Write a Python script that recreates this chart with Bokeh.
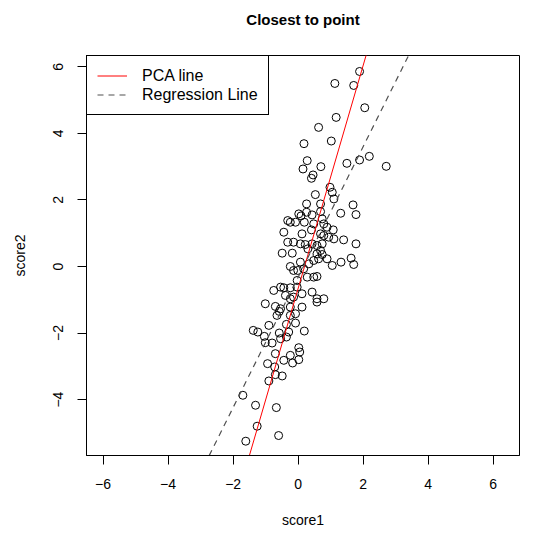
import numpy as np
from bokeh.plotting import figure
from bokeh.models import Range1d, Legend, LegendItem, FixedTicker, LinearAxis
from bokeh.embed import file_html
from bokeh.resources import INLINE

# ---- data ----
score1 = [1.89, 1.13, 1.71, 2.05, 1.17, 0.63, 0.18, 1.02, 0.28, 0.15, 0.70, 0.46, 0.41, 1.50, 1.89, 2.19, 2.71, 0.98,
          1.05, 1.10, 0.53, 0.26, 0.69, 1.69, 1.78, 1.31, 0.02, 0.09, 0.26, 0.43, 0.69, 0.74, -0.32, -0.24, -0.08, 0.19,
          0.48, 0.79, 0.89, 0.41, 1.08, -0.44, 0.12, 0.69, 0.79, 0.94, 1.10, 1.40, 1.78, -0.32, -0.14, 0.07, 0.22, 0.43,
          0.58, 0.74, 0.30, 0.69, -0.49, -0.18, 0.58, 0.74, 0.89, 0.63, 0.48, 0.07, 0.33, 1.32, 1.63, 1.71, 1.05, -0.24,
          -0.01, -0.14, 0.17, 0.28, 0.48, 0.58, -0.03, -0.75, -0.54, -0.44, -0.24, -0.03, 0.43, -0.39, -0.14, -0.24, 0.12,
          0.58, 0.79, 0.58, -1.01, -0.70, -0.54, -0.24, 0.12, -0.08, -0.24, -0.65, -0.58, -0.90, -0.36, -0.08, -1.38,
          -1.24, -0.58, -0.29, 0.19, -1.04, -0.54, -0.36, -1.01, -0.80, 0.02, 0.05, -0.70, -0.24, -0.44, 0.02, -0.17,
          -0.94, -0.72, -0.70, -0.49, -0.90, -1.70, -1.31, -0.67, -1.26, -0.60, -1.61]
score2 = [5.86, 5.50, 5.44, 4.77, 4.48, 4.18, 3.69, 3.77, 3.18, 2.93, 3.00, 2.75, 2.65, 3.10, 3.20, 3.31, 3.01, 2.38,
          2.23, 2.03, 2.16, 1.88, 1.88, 1.85, 1.56, 1.60, 1.58, 1.52, 1.63, 1.55, 1.65, 1.43, 1.38, 1.33, 1.33, 1.33,
          1.28, 1.28, 1.18, 1.10, 1.10, 1.03, 0.98, 0.98, 0.93, 0.88, 0.83, 0.80, 0.68, 0.73, 0.73, 0.68, 0.66, 0.68,
          0.63, 0.68, 0.53, 0.48, 0.40, 0.40, 0.38, 0.36, 0.23, 0.23, 0.18, 0.13, 0.08, 0.13, 0.25, 0.06, 0.03, 0.00,
          -0.12, -0.12, -0.07, -0.32, -0.32, -0.30, -0.42, -0.72, -0.62, -0.64, -0.64, -0.62, -0.77, -0.87, -0.92, -0.97,
          -0.82, -0.97, -0.97, -1.07, -1.12, -1.20, -1.27, -1.22, -1.22, -1.42, -1.47, -1.47, -1.35, -1.77, -1.74, -1.70,
          -1.92, -1.97, -2.00, -1.97, -1.94, -2.10, -2.17, -2.12, -2.29, -2.30, -2.44, -2.57, -2.62, -2.67, -2.82, -2.80,
          -2.90, -2.92, -3.02, -3.25, -3.29, -3.44, -3.87, -4.17, -4.24, -4.80, -5.08, -5.25]

pca_slope, pca_intercept = 3.35, -0.66
reg_slope, reg_intercept = 1.96, -0.32

x_ticks = [-6, -4, -2, 0, 2, 4, 6]
y_ticks = [-4, -2, 0, 2, 4, 6]
title_text = "Closest to point"

FONT = "Liberation Sans"

p = figure(width=530, height=533,
           x_range=Range1d(-6.51, 6.81), y_range=Range1d(-5.68, 6.34),
           output_backend="svg", toolbar_location=None,
           min_border_left=86, min_border_right=11, min_border_top=55, min_border_bottom=78)

p.xgrid.visible = False
p.ygrid.visible = False
p.outline_line_color = "black"
p.outline_line_alpha = 1.0
p.outline_line_width = 1
p.background_fill_color = "white"
p.border_fill_color = "white"

p.xaxis.ticker = FixedTicker(ticks=x_ticks, minor_ticks=[])
p.yaxis.ticker = FixedTicker(ticks=y_ticks, minor_ticks=[])
for ax in (p.xaxis[0], p.yaxis[0]):
    ax.axis_line_color = "black"
    ax.major_tick_line_color = "black"
    ax.major_tick_out = 9
    ax.major_tick_in = 0
    ax.minor_tick_line_color = None
    ax.major_label_text_font = FONT
    ax.major_label_text_font_size = "14px"
    ax.major_label_text_color = "black"
    ax.axis_label_text_font = FONT
    ax.axis_label_text_font_size = "14px"
    ax.axis_label_text_font_style = "normal"
    ax.axis_label_text_color = "black"

p.xaxis.axis_label = "score1"
p.yaxis.axis_label = "score2"
p.xaxis.major_label_standoff = 14
p.xaxis.axis_label_standoff = 20
p.yaxis.major_label_standoff = 14
p.yaxis.major_label_orientation = "vertical"
p.yaxis.axis_label_standoff = 23

# title drawn as the label of a tick-less axis above the frame
title_axis = LinearAxis(ticker=FixedTicker(ticks=[], minor_ticks=[]),
                        axis_line_color=None, major_tick_line_color=None,
                        minor_tick_line_color=None, major_label_text_font_size="0px",
                        axis_label=title_text, axis_label_standoff=28,
                        axis_label_text_font=FONT, axis_label_text_font_size="15px",
                        axis_label_text_font_style="bold", axis_label_text_color="black")
p.add_layout(title_axis, "above")

p.scatter(score1, score2, marker="circle", size=8, fill_color=None,
          line_color="black", line_width=1)

x_line = np.array([p.x_range.start, p.x_range.end])
r_pca = p.line(x_line, pca_slope * x_line + pca_intercept, line_color="red", line_width=1)
r_reg = p.line(x_line, reg_slope * x_line + reg_intercept, line_color="#505050",
               line_width=1.2, line_dash="6 5")

legend = Legend(items=[LegendItem(label="PCA line", renderers=[r_pca]),
                       LegendItem(label="Regression Line", renderers=[r_reg])],
                location="top_left", margin=0, padding=10, spacing=0,
                label_height=19, glyph_height=19, glyph_width=30, label_standoff=15,
                label_text_font=FONT, label_text_font_size="16px", label_text_color="black",
                border_line_color="black", border_line_width=1, border_line_alpha=1.0,
                background_fill_color="white", background_fill_alpha=1.0)
p.add_layout(legend)

open("out.html", "w").write(file_html(p, INLINE))
